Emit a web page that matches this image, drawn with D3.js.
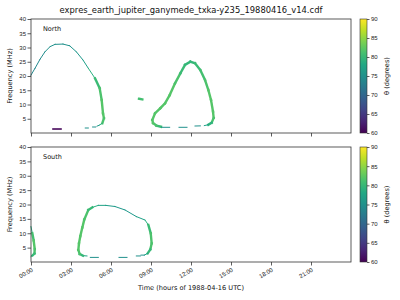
<!DOCTYPE html>
<html>
<head>
<meta charset="utf-8">
<script src="https://cdn.jsdelivr.net/npm/d3@7"></script>
<style>
  body { margin: 0; background: #fff; }
  svg { font-family: "DejaVu Sans", sans-serif; }
  .tick text { font-size: 6px; fill: #222; }
  .tick line, .domain { stroke: #333; stroke-width: 0.8; }
</style>
</head>
<body>
<div id="chart"></div>
<script>
// [hour, MHz, theta in degrees]
var northArc = [[0.0,20.3,74],[0.3,22.7,74],[0.68,25.9,74],[1.05,28.5,75],[1.43,30.3,75],
  [1.8,31.1,75],[2.4,31.2,75],[2.9,30.6,75],[3.4,28.5,76],[3.9,25.6,76],[4.3,22.7,78],
  [4.8,19.2,80],[5.15,15.7,81],[5.3,11.6,82],[5.4,6.9,82],[5.47,5.2,82],[5.35,3.4,81],
  [5.1,2.7,77],[4.95,2.4,75]];
var northDashes = [[[4.07,1.75,75],[4.3,1.75,75]], [[4.62,2.1,75],[4.85,2.1,75]]];
var blackDash = [[1.65,1.4,60.5],[2.25,1.4,60.5]];
var northDot = [[8.1,12.0,81],[8.35,11.8,81]];
var northLoop = [[9.75,2.2,80],[9.4,2.6,81],[9.15,3.5,82],[9.1,4.6,82],[9.3,6.9,82],
  [9.7,8.7,82],[10.05,10.4,82],[10.4,13.3,82],[10.8,17.4,82],[11.2,20.9,81],[11.55,23.9,80],
  [11.95,25.0,80],[12.3,24.5,80],[12.7,22.1,81],[13.05,18.6,81],[13.3,15.1,82],
  [13.5,11.6,82],[13.65,7.5,82],[13.7,5.3,82],[13.55,3.6,81],[13.3,2.9,78],[13.0,2.6,76]];
var northLoopDashes = [[[9.8,2.0,75],[10.4,2.0,75]], [[11.1,2.0,75],[11.7,2.0,75]],
  [[12.3,2.45,75],[12.7,2.5,75]]];

var southEdge = [[0.0,12.3,77],[0.1,10.0,80],[0.2,7.5,82],[0.28,4.5,82],[0.26,3.0,81],
  [0.12,2.3,80],[0.0,1.9,78]];
var southLoop = [[4.2,2.1,76],[3.9,2.2,79],[3.65,2.8,81],[3.55,4.2,82],[3.6,6.5,82],
  [3.7,9.0,82],[3.85,12.0,82],[4.0,14.8,82],[4.3,18.1,81],[4.6,19.0,80],[5.05,19.7,78],
  [5.6,19.7,77],[6.3,19.3,76],[7.05,18.1,76],[7.9,15.8,76],[8.55,14.6,78],[8.8,12.9,80],
  [8.98,10.0,81],[9.05,6.5,82],[8.95,4.4,81],[8.75,3.0,79],[8.5,2.4,76],[8.25,2.4,75]];
var southDashes = [[[4.45,1.6,75],[5.05,1.6,75]], [[6.6,1.6,75],[7.2,1.6,75]],
  [[7.9,2.1,75],[8.2,2.1,75]]];

var hourTicks = [0,3,6,9,12,15,18,21];
var freqTicks = [5,10,15,20,25,30,35,40];
var thetaTicks = [60,65,70,75,80,85,90];

var W = 400, H = 300;
var svg = d3.select("#chart").append("svg").attr("width", W).attr("height", H);

var x = d3.scaleLinear().domain([0,24]).range([31,351]);
var color = d3.scaleSequential(d3.interpolateViridis).domain([60,90]);

var defs = svg.append("defs");
var grad = defs.append("linearGradient").attr("id", "vir")
  .attr("x1", 0).attr("y1", 1).attr("x2", 0).attr("y2", 0);
d3.range(0, 1.01, 0.1).forEach(function (t) {
  grad.append("stop").attr("offset", t).attr("stop-color", d3.interpolateViridis(t));
});

svg.append("text").attr("x", 191).attr("y", 13).attr("text-anchor", "middle")
  .style("font-size", "8.4px").attr("fill", "#111")
  .text("expres_earth_jupiter_ganymede_txka-y235_19880416_v14.cdf");

function panel(top, bottom, name, curves, showX) {
  var y = d3.scaleLinear().domain([0,40]).range([bottom, top]);
  var g = svg.append("g");

  curves.forEach(function (pts) {
    g.selectAll(null)
      .data(d3.pairs(pts))
      .enter()
      .append("line")
      .attr("x1", function (d) { return x(d[0][0]); })
      .attr("y1", function (d) { return y(d[0][1]); })
      .attr("x2", function (d) { return x(d[1][0]); })
      .attr("y2", function (d) { return y(d[1][1]); })
      .attr("stroke", function (d) { return color((d[0][2] + d[1][2]) / 2); })
      .attr("stroke-width", function (d) {
        var t = (d[0][2] + d[1][2]) / 2;
        if (t < 62) return 1.6;
        return t >= 79.5 ? 2.4 : 1.0;
      })
      .attr("stroke-linecap", "square");
  });

  g.append("rect").attr("x", 31).attr("y", top).attr("width", 320).attr("height", bottom - top)
    .attr("fill", "none").attr("stroke", "#333").attr("stroke-width", 0.8);

  var xa = g.append("g").attr("transform", "translate(0," + bottom + ")")
    .call(d3.axisBottom(x).tickValues(hourTicks).tickSize(3.5)
      .tickFormat(function (d) { return showX ? d3.format("02d")(d) + ":00" : ""; }));
  xa.select(".domain").remove();
  if (showX) {
    xa.selectAll(".tick text")
      .attr("text-anchor", "end")
      .attr("dy", 0).attr("y", 0)
      .attr("transform", "translate(2,9) rotate(-30)");
  }

  var ya = g.append("g").attr("transform", "translate(31,0)")
    .call(d3.axisLeft(y).tickValues(freqTicks).tickSize(3.5));
  ya.select(".domain").remove();
  ya.selectAll(".tick text").attr("x", -5);

  g.append("text").attr("x", 43).attr("y", top + 12).style("font-size", "6.5px")
    .attr("fill", "#111").text(name);

  g.append("text").attr("transform", "translate(12," + ((top + bottom) / 2) + ") rotate(-90)")
    .attr("text-anchor", "middle").style("font-size", "6.6px").attr("fill", "#111")
    .text("Frequency (MHz)");

  // colorbar
  var c = d3.scaleLinear().domain([60,90]).range([bottom, top]);
  g.append("rect").attr("x", 360).attr("y", top).attr("width", 7).attr("height", bottom - top)
    .attr("fill", "url(#vir)").attr("stroke", "#333").attr("stroke-width", 0.6);
  var ca = g.append("g").attr("transform", "translate(367,0)")
    .call(d3.axisRight(c).tickValues(thetaTicks).tickSize(2.5));
  ca.select(".domain").remove();
  ca.selectAll(".tick text").attr("x", 4);
  g.append("text").attr("transform", "translate(389," + ((top + bottom) / 2) + ") rotate(-90)")
    .attr("text-anchor", "middle").style("font-size", "6.6px").attr("fill", "#111")
    .text("\u03b8 (degrees)");
}

panel(19, 133, "North", [northArc, blackDash, northDot, northLoop].concat(northDashes).concat(northLoopDashes), false);
panel(147, 262, "South", [southEdge, southLoop].concat(southDashes), true);

svg.append("text").attr("x", 191).attr("y", 290).attr("text-anchor", "middle")
  .style("font-size", "6.6px").attr("fill", "#111")
  .text("Time (hours of 1988-04-16 UTC)");
</script>
</body>
</html>
